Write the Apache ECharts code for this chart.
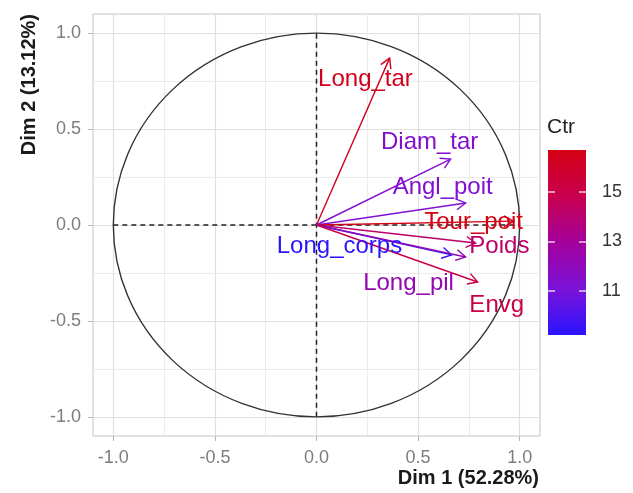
<!DOCTYPE html>
<html>
<head>
<meta charset="utf-8">
<script src="https://cdn.jsdelivr.net/npm/echarts@6.0.0/dist/echarts.min.js"></script>
<style>
  html, body { margin: 0; padding: 0; background: #fff; }
  #chart { width: 633px; height: 493px; }
</style>
</head>
<body>
<div id="chart"></div>
<script>
// variables of the PCA (correlation circle)
const varNames = ['Long_tar', 'Diam_tar', 'Angl_poit', 'Tour_poit', 'Poids', 'Long_corps', 'Long_pil', 'Envg'];
const dim1 = [0.36, 0.66, 0.734, 0.97, 0.783, 0.665, 0.734, 0.793];
const dim2 = [0.87, 0.344, 0.115, 0.02, -0.094, -0.156, -0.167, -0.297];
const ctr = [16.4, 11.4, 11.3, 16.7, 14.2, 9.2, 12.2, 15.0];
// where the (repelled) labels sit, in data units
const labelX = [0.241, 0.557, 0.621, 0.773, 0.90, 0.113, 0.453, 0.887];
const labelY = [0.76, 0.432, 0.198, 0.016, -0.109, -0.109, -0.302, -0.417];

const axisTicks = [-1, -0.5, 0, 0.5, 1];
const minorTicks = [-0.75, -0.25, 0.25, 0.75];
const ctrTicks = [11, 13, 15];

const ctrMin = Math.min(...ctr);
const ctrMax = Math.max(...ctr);
const rampColors = ['#2a14ff', '#7c12d8', '#a4009c', '#c8004e', '#d40014'];

const FONT = '"Liberation Sans", Arial, sans-serif';

let myChart = echarts.init(document.getElementById('chart'));

const rows = varNames.map((n, i) => [dim1[i], dim2[i], ctr[i], labelX[i], labelY[i]]);

function gridLines() {
  let d = [];
  axisTicks.forEach(v => { d.push({xAxis: v, lineStyle: {width: 1.2, color: '#e0e0e0'}}); d.push({yAxis: v, lineStyle: {width: 1.2, color: '#e0e0e0'}}); });
  minorTicks.forEach(v => { d.push({xAxis: v, lineStyle: {width: 0.9, color: '#eaeaea'}}); d.push({yAxis: v, lineStyle: {width: 0.9, color: '#eaeaea'}}); });
  return d;
}

let option = {
  animation: false,
  grid: [
    {left: 93, top: 14, width: 447, height: 422, show: true, borderColor: '#c4c4c4', borderWidth: 1, backgroundColor: 'transparent'},
    {left: 548, top: 150, width: 38, height: 185, show: false}
  ],
  xAxis: [
    {
      type: 'value', gridIndex: 0, min: -1.1, max: 1.1,
      splitLine: {show: false},
      axisLine: {show: false, onZero: false},
      axisTick: {show: true, customValues: axisTicks, length: 5, lineStyle: {color: '#b5b5b5'}},
      axisLabel: {customValues: axisTicks, formatter: v => v.toFixed(1), color: '#7d7d7d', fontSize: 18, fontFamily: FONT, margin: 13}
    },
    {type: 'value', gridIndex: 1, min: 0, max: 1, show: false}
  ],
  yAxis: [
    {
      type: 'value', gridIndex: 0, min: -1.1, max: 1.1,
      splitLine: {show: false},
      axisLine: {show: false, onZero: false},
      axisTick: {show: true, customValues: axisTicks, length: 5, lineStyle: {color: '#b5b5b5'}},
      axisLabel: {customValues: axisTicks, formatter: v => v.toFixed(1), color: '#7d7d7d', fontSize: 18, fontFamily: FONT, margin: 12}
    },
    {
      type: 'value', gridIndex: 1, min: ctrMin, max: ctrMax, position: 'right', z: 10,
      splitLine: {show: false},
      axisLine: {show: false, onZero: false},
      axisTick: {show: true, inside: true, customValues: ctrTicks, length: 7, lineStyle: {color: 'rgba(255,255,255,0.8)', width: 1.5}},
      axisLabel: {customValues: ctrTicks, color: '#333', fontSize: 18, fontFamily: FONT, margin: 16}
    },
    {
      type: 'value', gridIndex: 1, min: ctrMin, max: ctrMax, position: 'left', z: 10,
      splitLine: {show: false},
      axisLine: {show: false, onZero: false},
      axisTick: {show: true, inside: true, customValues: ctrTicks, length: 7, lineStyle: {color: 'rgba(255,255,255,0.8)', width: 1.5}},
      axisLabel: {show: false}
    }
  ],
  visualMap: {
    type: 'continuous', show: false, min: ctrMin, max: ctrMax, dimension: 2,
    seriesIndex: [4, 5],
    inRange: {color: rampColors}
  },
  graphic: [
    {type: 'text', x: 29, y: 14, rotation: Math.PI / 2,
     style: {text: 'Dim 2 (13.12%)', fill: '#1a1a1a', font: 'bold 20px ' + FONT, align: 'right', verticalAlign: 'middle'}},
    {type: 'text', x: 539, y: 478,
     style: {text: 'Dim 1 (52.28%)', fill: '#1a1a1a', font: 'bold 20px ' + FONT, align: 'right', verticalAlign: 'middle'}},
    {type: 'text', x: 547, y: 127,
     style: {text: 'Ctr', fill: '#222', font: '21px ' + FONT, align: 'left', verticalAlign: 'middle'}}
  ],
  series: [
    {
      // background grid
      type: 'line', xAxisIndex: 0, yAxisIndex: 0, z: 0, silent: true,
      data: [[-1.1, -1.1]], showSymbol: false, lineStyle: {opacity: 0},
      markLine: {silent: true, symbol: 'none', label: {show: false}, lineStyle: {type: 'solid'}, data: gridLines()}
    },
    {
      type: 'line', xAxisIndex: 0, yAxisIndex: 0, z: 6, silent: true,
      data: [[-1, 0], [1, 0]], showSymbol: false,
      lineStyle: {color: '#222', width: 1.5, type: [5, 4]}
    },
    {
      type: 'line', xAxisIndex: 0, yAxisIndex: 0, z: 6, silent: true,
      data: [[0, -1], [0, 1]], showSymbol: false,
      lineStyle: {color: '#222', width: 1.5, type: [5, 4]}
    },
    {
      // unit circle
      type: 'custom', xAxisIndex: 0, yAxisIndex: 0, z: 6, silent: true,
      data: [[0, 0, 1]],
      renderItem: function (params, api) {
        let c = api.coord([api.value(0), api.value(1)]);
        let rx = api.size([api.value(2), 0])[0];
        let ry = api.size([0, api.value(2)])[1];
        return {
          type: 'circle', x: c[0], y: c[1], scaleY: ry / rx,
          shape: {cx: 0, cy: 0, r: rx},
          style: {stroke: '#333', fill: null, lineWidth: 1.4}
        };
      }
    },
    {
      // arrows
      type: 'custom', xAxisIndex: 0, yAxisIndex: 0, z: 7, silent: true,
      data: rows,
      encode: {x: 0, y: 1},
      renderItem: function (params, api) {
        let o = api.coord([0, 0]);
        let t = api.coord([api.value(0), api.value(1)]);
        let color = api.visual('color');
        let ang = Math.atan2(t[1] - o[1], t[0] - o[0]);
        let L = 11, a = Math.PI / 6;
        let p1 = [t[0] - L * Math.cos(ang - a), t[1] - L * Math.sin(ang - a)];
        let p2 = [t[0] - L * Math.cos(ang + a), t[1] - L * Math.sin(ang + a)];
        return {
          type: 'group',
          children: [
            {type: 'line', shape: {x1: o[0], y1: o[1], x2: t[0], y2: t[1]}, style: {stroke: color, lineWidth: 1.4}},
            {type: 'polyline', shape: {points: [p1, t, p2]}, style: {stroke: color, fill: null, lineWidth: 1.4}}
          ]
        };
      }
    },
    {
      // labels
      type: 'custom', xAxisIndex: 0, yAxisIndex: 0, z: 8, silent: true,
      data: rows,
      encode: {x: 3, y: 4},
      renderItem: function (params, api) {
        let p = api.coord([api.value(3), api.value(4)]);
        return {
          type: 'text', x: p[0], y: p[1],
          style: {text: varNames[params.dataIndex], fill: api.visual('color'), font: '24px ' + FONT, align: 'center', verticalAlign: 'middle'}
        };
      }
    },
    {
      // colour bar
      type: 'custom', xAxisIndex: 1, yAxisIndex: 1, z: 2, silent: true,
      data: [[0, ctrMin, 1, ctrMax]],
      renderItem: function (params, api) {
        let a = api.coord([api.value(0), api.value(3)]);
        let b = api.coord([api.value(2), api.value(1)]);
        let stops = rampColors.map((c, i) => ({offset: 1 - i / (rampColors.length - 1), color: c})).reverse();
        return {
          type: 'rect',
          shape: {x: a[0], y: a[1], width: b[0] - a[0], height: b[1] - a[1]},
          style: {fill: new echarts.graphic.LinearGradient(0, 0, 0, 1, stops)}
        };
      }
    }
  ]
};
myChart.setOption(option);
</script>
</body>
</html>
